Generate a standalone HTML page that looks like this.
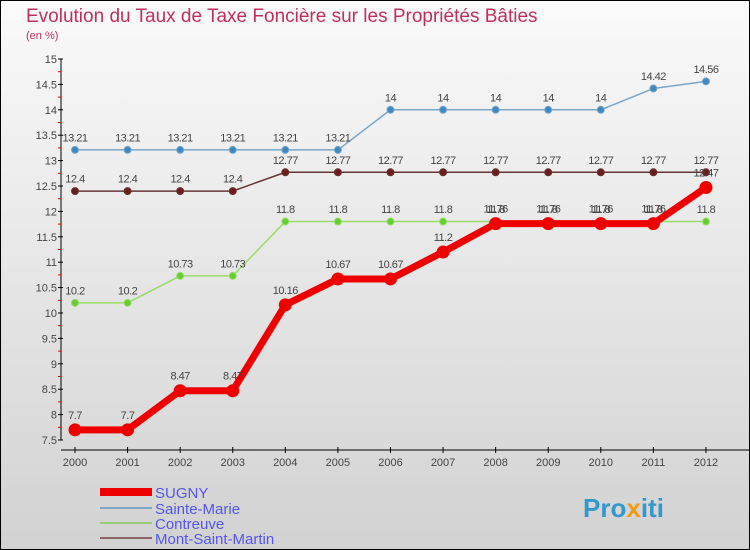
<!DOCTYPE html>
<html><head><meta charset="utf-8"><style>
body{margin:0;width:750px;height:550px;overflow:hidden;font-family:"Liberation Sans",sans-serif}
svg{display:block}
</style></head><body>
<svg id="c" width="750" height="550" xmlns="http://www.w3.org/2000/svg">
<defs><linearGradient id="bg" x1="0" y1="0" x2="0" y2="1"><stop offset="0" stop-color="#fafafa"/><stop offset="1" stop-color="#d2d2d2"/></linearGradient></defs>
<rect x="0.5" y="0.5" width="749" height="549" fill="url(#bg)" stroke="#000"/>
<text x="26" y="22" font-size="19" fill="#c0305a">Evolution du Taux de Taxe Foncière sur les Propriétés Bâties</text>
<text x="26" y="39" font-size="11" fill="#c0305a">(en %)</text>
<g id="axes"></g><g id="series"></g>
<g>
<rect x="100" y="488" width="52" height="8" fill="#e00"/>
<text x="155" y="498" font-size="15" fill="#5555ee">SUGNY</text>
<rect x="100" y="507" width="52" height="2" fill="#7aa6c8"/>
<text x="155" y="514" font-size="15" fill="#5555ee">Sainte-Marie</text>
<rect x="100" y="522" width="52" height="2" fill="#99cc77"/>
<text x="155" y="529" font-size="15" fill="#5555ee">Contreuve</text>
<rect x="100" y="537" width="52" height="2" fill="#8a6666"/>
<text x="155" y="544" font-size="15" fill="#5555ee">Mont-Saint-Martin</text>
</g>
<text x="583" y="517" font-size="26" font-weight="bold" fill="#3399cc">Pro<tspan fill="#f39c12">x</tspan>iti</text>
</svg>
<script>
const years=[2000,2001,2002,2003,2004,2005,2006,2007,2008,2009,2010,2011,2012];
const yTicks=[7.5,8,8.5,9,9.5,10,10.5,11,11.5,12,12.5,13,13.5,14,14.5,15];
const sugny=[7.7,7.7,8.47,8.47,10.16,10.67,10.67,11.2,11.76,11.76,11.76,11.76,12.47];
const sainteMarie=[13.21,13.21,13.21,13.21,13.21,13.21,14,14,14,14,14,14.42,14.56];
const contreuve=[10.2,10.2,10.73,10.73,11.8,11.8,11.8,11.8,11.8,11.8,11.8,11.8,11.8];
const montSaintMartin=[12.4,12.4,12.4,12.4,12.77,12.77,12.77,12.77,12.77,12.77,12.77,12.77,12.77];
const NS="http://www.w3.org/2000/svg";
const X=i=>75+i*52.58, Y=v=>440-(v-7.5)*50.8;
function mk(p,t,a){const e=document.createElementNS(NS,t);for(const k in a)e.setAttribute(k,a[k]);p.appendChild(e);return e;}
const ax=document.getElementById('axes'), sg=document.getElementById('series');
const yl=mk(ax,'line',{x1:61,y1:Y(15),x2:61,y2:Y(7.5),stroke:'#000'});


yTicks.forEach(v=>{
 mk(ax,'line',{x1:58,y1:Y(v),x2:63,y2:Y(v),stroke:'#000'});
 const t=mk(ax,'text',{x:57,y:Y(v)+4,'font-size':11,fill:'#444','text-anchor':'end'});t.textContent=v;
 
 
 if(v<15)mk(ax,'line',{x1:58,y1:Y(v+0.25),x2:61,y2:Y(v+0.25),stroke:'#e00'});
});
const xl=mk(ax,'line',{x1:61,y1:450,x2:750,y2:450,stroke:'#000'});


years.forEach((y,i)=>{
 mk(ax,'line',{x1:X(i),y1:447,x2:X(i),y2:453,stroke:'#000'});
 const t=mk(ax,'text',{x:X(i),y:466,'font-size':11,fill:'#444','text-anchor':'middle'});t.textContent=y;
 
 
});
function draw(data,name,col,dot,w,r){
 const g=mk(sg,'g',{});
 
 
 mk(g,'polyline',{points:data.map((v,i)=>X(i)+','+Y(v)).join(' '),fill:'none',stroke:col,'stroke-width':w});
 data.forEach((v,i)=>{
  const c=mk(g,'circle',{cx:X(i),cy:Y(v),r:r,fill:dot,stroke:col});
  
  
  const t=mk(g,'text',{x:X(i),y:Y(v)-(r+5),'font-size':11,fill:'#444','text-anchor':'middle','letter-spacing':'-0.5'});t.textContent=v;
  
  
 });
}
draw(sainteMarie,'sainte-marie','#7aa6c8','#3f88c0',1.5,3.5);
draw(montSaintMartin,'mont-saint-martin','#663333','#6b1e1e',1.5,3.5);
draw(contreuve,'contreuve','#99dd66','#66cc33',1.5,3.5);
draw(sugny,'sugny','#ee0000','#ee0000',7,6);
</script>
</body></html>
